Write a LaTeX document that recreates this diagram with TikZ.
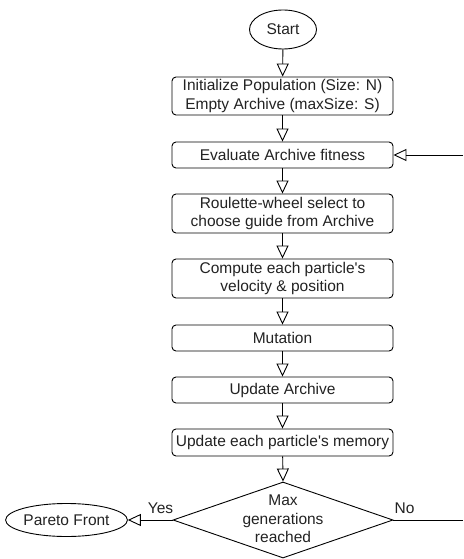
\documentclass[tikz,border=0pt]{standalone}
\usepackage{fontspec}
\setmainfont{Liberation Sans}
\usetikzlibrary{arrows.meta,shapes.geometric}
\definecolor{ink}{HTML}{222222}
\begin{document}
\begin{tikzpicture}[x=1pt,y=-1pt,
  every node/.style={text=ink, font=\fontsize{15.5}{18.5}\selectfont},
  box/.style={draw=black, line width=0.9pt, rounded corners=4pt, minimum width=221pt, inner sep=0pt, align=center},
  term/.style={draw=black, line width=0.9pt, ellipse, inner sep=0pt},
  dec/.style={draw=black, line width=0.9pt, diamond, inner sep=0pt, minimum width=220pt, minimum height=76pt},
  arr/.style={draw=black, line width=0.9pt, -{Triangle[open, length=13pt, width=12pt]}},
  ln/.style={draw=black, line width=0.9pt},
  lbl/.style={inner sep=0pt, above=6pt}]
\useasboundingbox (0,0) rectangle (463,559);
\node[term, minimum width=67pt, minimum height=39pt] (start) at (283,29.5) {Start};
\node[box, minimum height=38pt] (init) at (282.5,96) {Initialize Population (Size: N)\\Empty Archive (maxSize: S)};
\node[box, minimum height=26pt] (eval) at (282.5,155) {Evaluate Archive fitness};
\node[box, minimum height=39pt] (roul) at (282.5,213.5) {Roulette-wheel select to\\choose guide from Archive};
\node[box, minimum height=39pt] (comp) at (282.5,278.5) {Compute each particle\textquotesingle s\\velocity \& position};
\node[box, minimum height=26pt] (mut) at (282.5,338) {Mutation};
\node[box, minimum height=26pt] (upd) at (282.5,390) {Update Archive};
\node[box, minimum height=27pt] (mem) at (282.5,442.5) {Update each particle\textquotesingle s memory};
\node[dec] (max) at (283,520) {};
\node[align=center, inner sep=0pt] (maxt) at (283,519) {Max\\generations\\reached};
\node[term, minimum width=103pt, minimum height=33pt] (pareto) at (66.5,520) {Pareto Front};
\coordinate (noend) at (463,520);
\coordinate (backin) at (463,155);
\draw[arr] (start) -- (init);
\draw[arr] (init) -- (eval);
\draw[arr] (eval) -- (roul);
\draw[arr] (roul) -- (comp);
\draw[arr] (comp) -- (mut);
\draw[arr] (mut) -- (upd);
\draw[arr] (upd) -- (mem);
\draw[arr] (mem) -- (max.north);
\draw[arr] (max.west) -- node[pos=0.27, lbl] {Yes} (pareto.east);
\draw[ln] (max.east) -- node[pos=0.16, lbl] {No} (noend);
\draw[arr] (backin) -- (eval.east);
\end{tikzpicture}
\end{document}
